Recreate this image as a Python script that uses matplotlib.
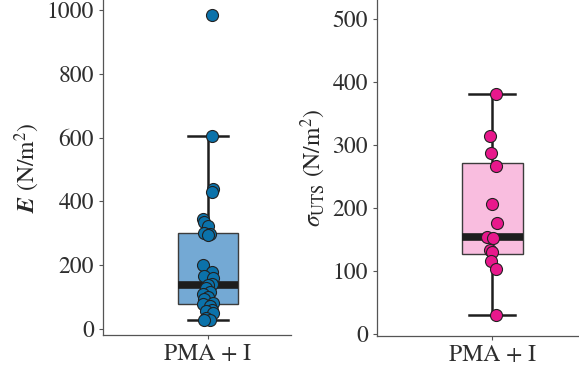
import numpy as np
import matplotlib
matplotlib.use("Agg")
from matplotlib import pyplot as plt

# E values (N/m^2) for PMA + I, with swarm offsets (in box widths)
e_values = [985, 604, 440, 428, 344, 336, 322, 301, 297, 293, 200, 177, 165,
            160, 140, 137, 128, 114, 108, 100, 92, 82, 76, 70, 60, 54, 48, 33, 28, 26]
e_offsets = [0.03, 0.03, 0.04, 0.03, -0.04, -0.03, 0.0, -0.03, 0.02, 0.0, -0.04, 0.03, -0.03,
             0.04, 0.03, 0.0, -0.02, 0.02, -0.04, 0.0, -0.03, 0.04, -0.04, 0.02, 0.03, -0.02,
             0.04, -0.02, 0.02, -0.03]

# UTS values (N/m^2) for PMA + I
uts_values = [381, 315, 287, 266, 206, 177, 154, 152, 134, 131, 116, 103, 31]
uts_offsets = [0.03, -0.02, -0.01, 0.03, 0.0, 0.04, -0.04, 0.01, -0.02, 0.0, -0.01, 0.03, 0.03]

group = "PMA + I"

# STIX ships with matplotlib and is Times-like, like the MATLAB figure
plt.rcParams["font.family"] = ["STIXGeneral", "DejaVu Serif"]
plt.rcParams["mathtext.fontset"] = "stix"


def box_stats(vals):
    # MATLAB-style quartiles (hazen), Tukey whiskers
    v = np.asarray(vals, dtype=float)
    q1, med, q3 = np.quantile(v, [0.25, 0.5, 0.75], method="hazen")
    iqr = q3 - q1
    inside = v[(v >= q1 - 1.5 * iqr) & (v <= q3 + 1.5 * iqr)]
    return dict(med=med, q1=q1, q3=q3, whislo=inside.min(), whishi=inside.max(), fliers=[])


def draw_panel(ax, vals, offsets, box_color, point_color, ylim, yticks, ylabel, capw):
    ax.bxp([box_stats(vals)], positions=[1], widths=0.5, capwidths=capw,
           patch_artist=True, showfliers=False,
           boxprops=dict(facecolor=box_color, edgecolor="#3c3c3c", linewidth=1.0),
           medianprops=dict(color="#1e1e1e", linewidth=5.5, solid_capstyle="butt"),
           whiskerprops=dict(color="#1e1e1e", linewidth=1.8),
           capprops=dict(color="#1e1e1e", linewidth=1.8))
    xs = 1 + np.asarray(offsets)
    ax.scatter(xs, vals, s=75, color=point_color, edgecolor="#222222",
               linewidth=0.8, zorder=5)
    ax.set_ylim(*ylim)
    ax.set_yticks(yticks)
    ax.set_xticks([1])
    ax.set_xticklabels([group])
    ax.set_ylabel(ylabel, fontsize=17, color="#262626", labelpad=3)
    for s in ["top", "right"]:
        ax.spines[s].set_visible(False)
    for s in ["left", "bottom"]:
        ax.spines[s].set_color("#555555")
        ax.spines[s].set_linewidth(0.9)
    ax.tick_params(axis="both", labelsize=17, colors="#555555", labelcolor="#2e2e2e",
                   direction="out", length=3, width=0.8)


fig = plt.figure(figsize=(5.79, 3.68), dpi=100)
ax1 = fig.add_axes([103 / 579, 1 - 335 / 368, 188 / 579, 335 / 368])
ax2 = fig.add_axes([377 / 579, 1 - 336 / 368, 202 / 579, 336 / 368])

draw_panel(ax1, e_values, e_offsets, "#74a9d4", "#0b72aa",
           (-20, 1032), [0, 200, 400, 600, 800, 1000], r"$\boldsymbol{E}$ (N/m$^2$)", 0.33)
ax1.set_xlim(0.125, 1.692)

draw_panel(ax2, uts_values, uts_offsets, "#f9bddf", "#e8188c",
           (-3, 530), [0, 100, 200, 300, 400, 500], r"$\sigma_{\mathrm{UTS}}$ (N/m$^2$)", 0.38)
ax2.set_xlim(0.057, 1.713)

fig.savefig("out.png", dpi=100)
